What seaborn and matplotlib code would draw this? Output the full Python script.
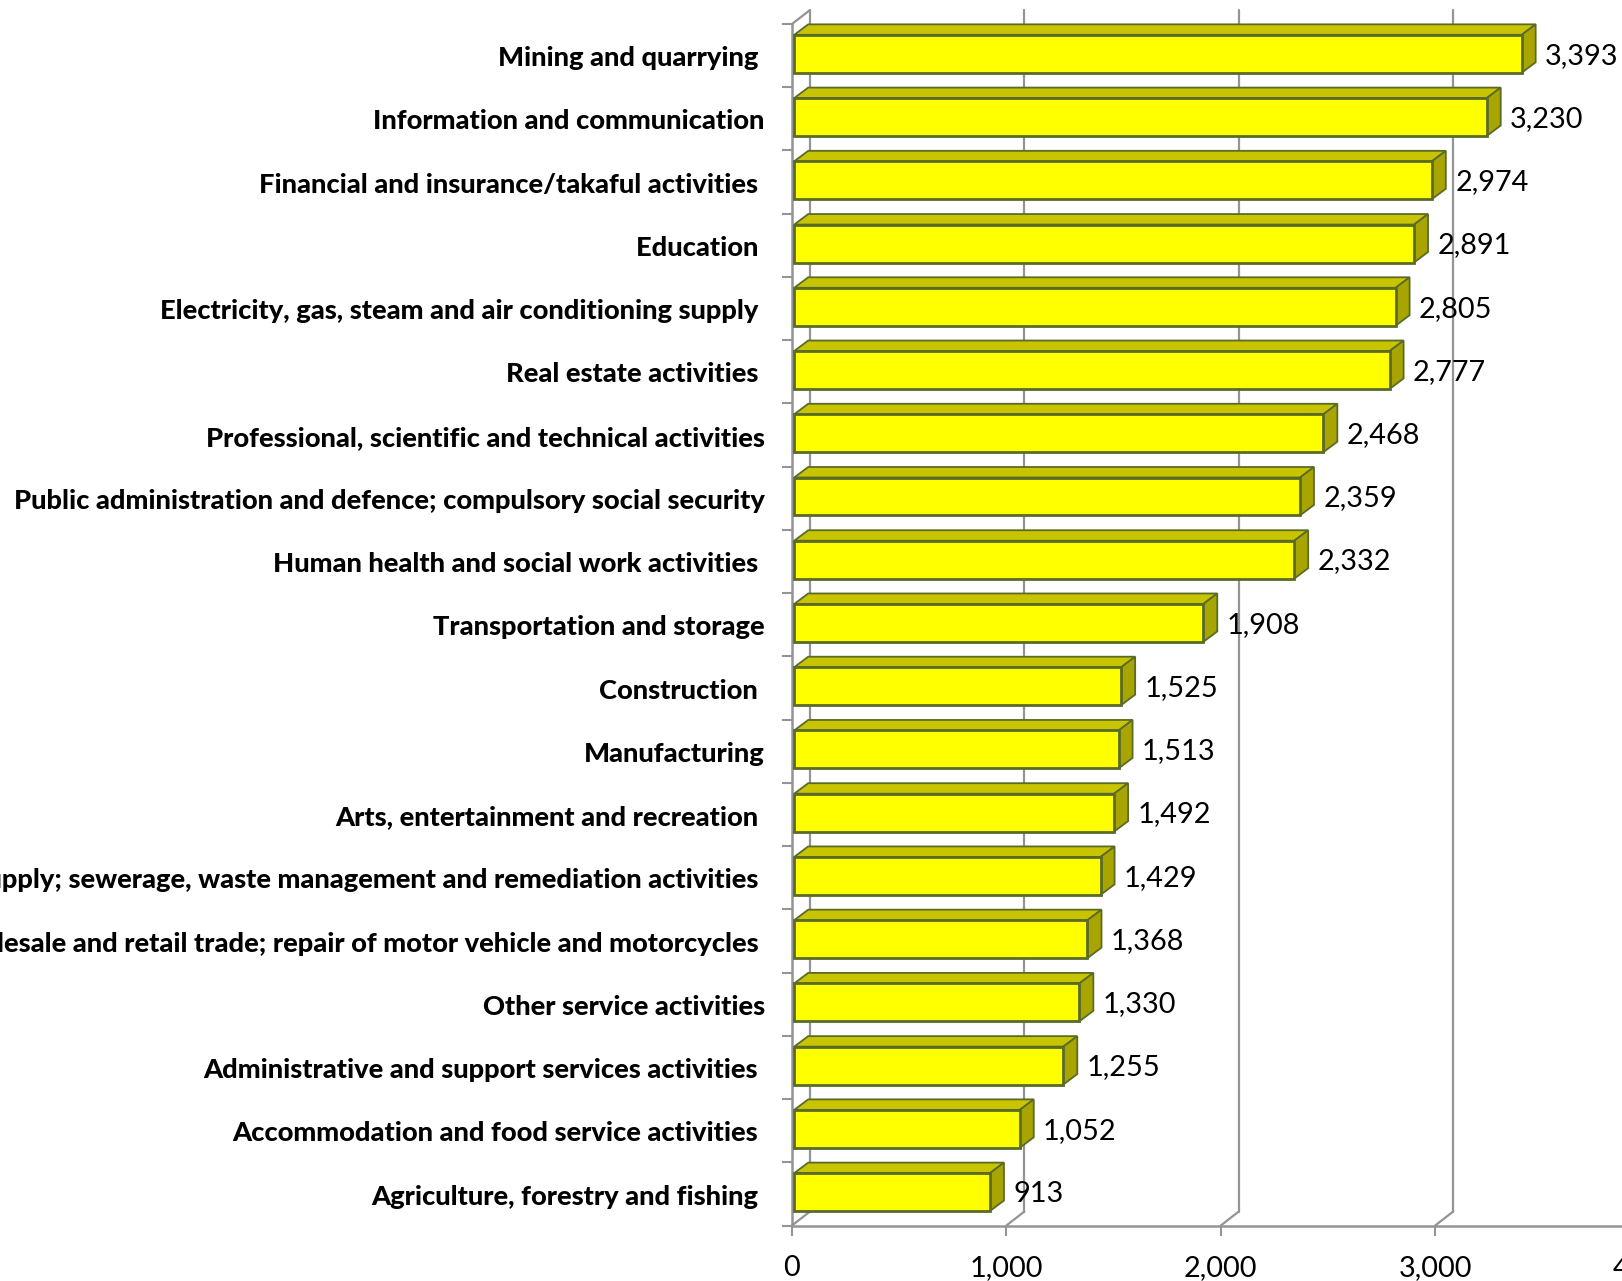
"""
Mean monthly wages by economic sector: Excel style 3D horizontal bars.
"""

import matplotlib.pyplot as plt
import pandas as pd
import seaborn as sns
from matplotlib.patches import Polygon
from matplotlib.transforms import Affine2D, IdentityTransform

# trailing space on some labels is in the original chart text
SECTORS = [
    "Mining and quarrying ",
    "Information and communication",
    "Financial and insurance/takaful activities ",
    "Education ",
    "Electricity, gas, steam and air conditioning supply ",
    "Real estate activities ",
    "Professional, scientific and technical activities",
    "Public administration and defence; compulsory social security",
    "Human health and social work activities ",
    "Transportation and storage",
    "Construction ",
    "Manufacturing",
    "Arts, entertainment and recreation ",
    "Water supply; sewerage, waste management and remediation activities ",
    "Wholesale and retail trade; repair of motor vehicle and motorcycles ",
    "Other service activities",
    "Administrative and support services activities ",
    "Accommodation and food service activities ",
    "Agriculture, forestry and fishing ",
]
VALUES = [3393, 3230, 2974, 2891, 2805, 2777, 2468, 2359, 2332, 1908,
          1525, 1513, 1492, 1429, 1368, 1330, 1255, 1052, 913]
X_TICKS = [0, 1000, 2000, 3000, 4000]

FRONT = "#FFFF00"
TOP = "#C8C400"
SIDE = "#A8A400"
EDGE = "#5A6B28"
GRID = "#949494"

W, H = 1622, 1281
BAR_DX, BAR_DY = 14, 10.5    # bar depth, pixels
WALL_DX, WALL_DY = 18, 14    # wall depth, pixels
BAR_SHIFT_X, BAR_SHIFT_Y = 2.2, 1.8    # bars sit a little off the axis in the original


def draw_walls(ax):
    back = ax.transData + Affine2D().translate(WALL_DX, WALL_DY)
    y_bottom = ax.get_ylim()[0]
    y_top = ax.get_ylim()[1]
    for tick in X_TICKS:
        ax.plot([tick, tick], [y_bottom, y_top], color=GRID, lw=1.6,
                transform=back, clip_on=False, zorder=1)
        # floor diagonal
        x, y = ax.transData.transform((tick, y_bottom))
        ax.plot([x, x + WALL_DX], [y, y + WALL_DY], color=GRID, lw=1.6,
                transform=IdentityTransform(), clip_on=False, zorder=1)
    x, y = ax.transData.transform((0, y_top))
    ax.plot([x, x + WALL_DX], [y, y + WALL_DY], color=GRID, lw=1.6,
            transform=IdentityTransform(), clip_on=False, zorder=1)


def draw_bar_faces(ax):
    shift = Affine2D().translate(BAR_SHIFT_X, BAR_SHIFT_Y)
    for bar in ax.patches:
        (x0, y0), (x1, y1) = (ax.transData + shift).transform(
            [(bar.get_x(), bar.get_y() + bar.get_height()),
             (bar.get_x() + bar.get_width(), bar.get_y())]
        )
        # y1 is the top edge on screen, y0 the bottom one
        top = [(x0, y1), (x1, y1), (x1 + BAR_DX, y1 + BAR_DY), (x0 + BAR_DX, y1 + BAR_DY)]
        side = [(x1, y1), (x1 + BAR_DX, y1 + BAR_DY), (x1 + BAR_DX, y0 + BAR_DY), (x1, y0)]
        for pts, color in ((top, TOP), (side, SIDE)):
            ax.add_patch(Polygon(pts, closed=True, facecolor=color, edgecolor=EDGE,
                                 linewidth=1.3, transform=IdentityTransform(),
                                 clip_on=False, zorder=2.5))
        bar.set_transform(ax.transData + shift)
        bar.set_clip_on(False)


def main():
    sns.set_theme(style="white")
    plt.rcParams["font.family"] = ["Lato", "DejaVu Sans"]

    df = pd.DataFrame({"sector": SECTORS, "value": VALUES})

    fig = plt.figure(figsize=(W / 100, H / 100), dpi=100)
    left, right = 792, 792 + 4 * 214.4
    top, bottom = 24, 1225.5
    ax = fig.add_axes([left / W, 1 - bottom / H, (right - left) / W, (bottom - top) / H])

    sns.barplot(data=df, x="value", y="sector", orient="h", color=FRONT, saturation=1,
                width=0.6, edgecolor=EDGE, linewidth=2, ax=ax, zorder=3)

    ax.set_xlim(0, 4000)
    ax.set_ylim(18.5, -0.5)
    ax.set_xlabel("")
    ax.set_ylabel("")
    ax.set_xticks(X_TICKS)
    ax.set_xticklabels([f"{t:,}" for t in X_TICKS], fontsize=20.8, color="black")

    ax.set_yticks([i + 0.01 for i in range(len(SECTORS))])
    ax.set_yticklabels(SECTORS, fontsize=19.6, fontweight="black", color="black")
    ax.set_yticks([i + 0.5 for i in range(-1, len(SECTORS))], minor=True)
    ax.tick_params(axis="y", which="major", length=0, pad=19.7)
    ax.tick_params(axis="y", which="minor", length=7, width=1.5, color=GRID, left=True)
    ax.tick_params(axis="x", length=7, width=1.5, color=GRID, pad=14, bottom=True)

    sns.despine(ax=ax)
    for name in ("left", "bottom"):
        ax.spines[name].set_color(GRID)
        ax.spines[name].set_linewidth(1.8)

    draw_walls(ax)
    draw_bar_faces(ax)

    for container in ax.containers:
        ax.bar_label(container, labels=[f"{v:,}" for v in VALUES], padding=18.4,
                     fontsize=20.8, color="black", zorder=4)

    fig.savefig("out.png", dpi=100)
    plt.close(fig)


if __name__ == "__main__":
    main()
